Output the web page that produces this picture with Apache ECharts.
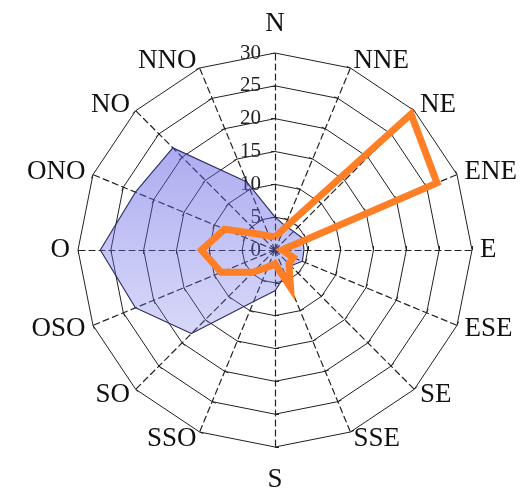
<!DOCTYPE html>
<html>
<head>
<meta charset="utf-8">
<script src="https://cdn.jsdelivr.net/npm/echarts@6/dist/echarts.min.js"></script>
<style>
html,body{margin:0;padding:0;background:#fff;}
#chart{width:520px;height:490px;}
</style>
</head>
<body>
<div id="chart"></div>
<script>
// Compass directions, clockwise from north
const directions = ['N','NNE','NE','ENE','E','ESE','SE','SSE','S','SSO','SO','OSO','O','ONO','NO','NNO'];
// Blue filled series
const blueValues = [5, 4, 4, 4.6, 4.4, 4.5, 3.4, 4.1, 6.2, 8.5, 18, 23, 26.6, 23, 22, 11.2];
// Orange line series
const orangeValues = [2, 3.5, 29.3, 26.7, 1.1, 3, 3, 6.2, 2.1, 2.8, 4.8, 8.9, 11.2, 8.3, 3.4, 2.3];
// Radial tick labels
const tickLabels = [0, 5, 10, 15, 20, 25, 30];

const axisMax = tickLabels[tickLabels.length - 1];
// ECharts radar runs counter-clockwise: reorder so directions go clockwise on screen
const order = [0];
for (let i = directions.length - 1; i >= 1; i--) order.push(i);

const tickLabelStyle = {
  show: true,
  color: '#222',
  fontFamily: 'Liberation Serif',
  fontSize: 21,
  margin: 14
};

const nameGaps = {N: 16, S: 19};
const indicator = order.map((i, k) => {
  const d = directions[i];
  const ind = {name: d, min: 0, max: axisMax};
  ind.nameGap = nameGaps[d] !== undefined ? nameGaps[d] : 8;
  ind.axisLabel = k === 0 ? Object.assign({}, tickLabelStyle) : {show: false};
  return ind;
});

const chart = echarts.init(document.getElementById('chart'), null, {renderer: 'canvas'});
chart.setOption({
  animation: false,
  backgroundColor: '#ffffff',
  radar: {
    center: [275, 250],
    radius: 197,
    startAngle: 90,
    splitNumber: tickLabels.length - 1,
    shape: 'polygon',
    indicator: indicator,
    axisName: {
      color: '#111',
      fontFamily: 'Liberation Serif',
      fontSize: 27
    },
    splitArea: {show: false},
    splitLine: {lineStyle: {color: '#222', width: 1}},
    axisLine: {lineStyle: {color: '#222', width: 1.2, type: [6, 4]}},
    axisTick: {show: true, length: 4, lineStyle: {color: '#222', width: 1}},
    axisLabel: tickLabelStyle
  },
  series: [{
    type: 'radar',
    symbol: 'none',
    z: 2,
    data: [
      {
        value: order.map(i => blueValues[i]),
        lineStyle: {color: '#22224a', width: 1.2},
        areaStyle: {
          color: new echarts.graphic.LinearGradient(0, 0, 0, 1, [
            {offset: 0, color: 'rgba(85,85,225,0.7)'},
            {offset: 1, color: 'rgba(120,120,235,0.42)'}
          ])
        }
      },
      {
        value: order.map(i => orangeValues[i]),
        lineStyle: {color: '#ff7f27', width: 7, join: 'miter'},
        areaStyle: null
      }
    ]
  }]
});
</script>
</body>
</html>
